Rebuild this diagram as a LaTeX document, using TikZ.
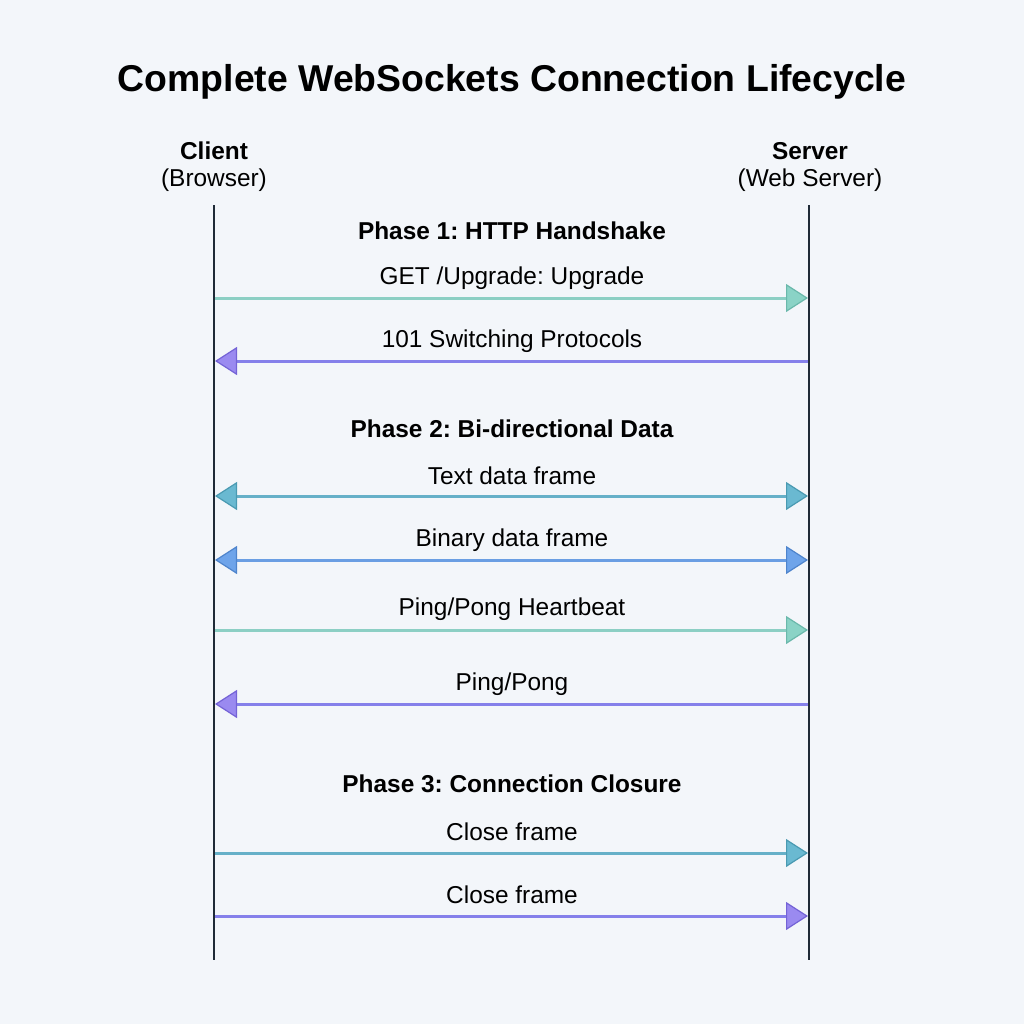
\documentclass[tikz,border=0pt]{standalone}
\usepackage{fontspec}
\setmainfont{Liberation Sans}
\usetikzlibrary{arrows.meta}
\frenchspacing
\definecolor{bg}{HTML}{F3F6FA}
\definecolor{life}{HTML}{1F2A37}
\definecolor{tgL}{HTML}{8CCFC4}\definecolor{tgF}{HTML}{8AD3C6}\definecolor{tgD}{HTML}{6AB8AB}
\definecolor{puL}{HTML}{8580EA}\definecolor{puF}{HTML}{9A8AF0}\definecolor{puD}{HTML}{7463D6}
\definecolor{tbL}{HTML}{66B0C8}\definecolor{tbF}{HTML}{6AB9D1}\definecolor{tbD}{HTML}{4A9AB2}
\definecolor{blL}{HTML}{6A9EE3}\definecolor{blF}{HTML}{6EA4EA}\definecolor{blD}{HTML}{4E84CC}
\tikzset{
  lifeline/.style={draw=life,line width=2.7bp},
  msg/.style={font=\fontsize{24.5}{28}\selectfont,text=black,inner sep=0},
  phase/.style={font=\bfseries\fontsize{24.5}{28}\selectfont,text=black,inner sep=0},
  actor/.style={font=\fontsize{24.5}{28}\selectfont,text=black,inner sep=0,align=center},
  tg/.style={draw=tgL,line width=3bp,arrows={-Triangle[length=22bp,width=28bp,fill=tgF,color=tgD,line width=1.2bp]}},
  pu/.style={draw=puL,line width=3bp,arrows={-Triangle[length=22bp,width=28bp,fill=puF,color=puD,line width=1.2bp]}},
  tb/.style={draw=tbL,line width=3bp,arrows={-Triangle[length=22bp,width=28bp,fill=tbF,color=tbD,line width=1.2bp]}},
  tbb/.style={draw=tbL,line width=3bp,arrows={Triangle[length=22bp,width=28bp,fill=tbF,color=tbD,line width=1.2bp]-Triangle[length=22bp,width=28bp,fill=tbF,color=tbD,line width=1.2bp]}},
  blb/.style={draw=blL,line width=3bp,arrows={Triangle[length=22bp,width=28bp,fill=blF,color=blD,line width=1.2bp]-Triangle[length=22bp,width=28bp,fill=blF,color=blD,line width=1.2bp]}},
}
\begin{document}
\begin{tikzpicture}[x=1bp,y=-1bp]
\fill[bg] (0,0) rectangle (1024,1024);
\useasboundingbox (0,0) rectangle (1024,1024);
\node[font=\bfseries\fontsize{37.5}{42}\selectfont,inner sep=0] (title) at (512,82) {Complete WebSockets Connection Lifecycle};
\node[actor,font=\bfseries\fontsize{24.5}{28}\selectfont] (client) at (214,151) {Client};
\node[actor] (clientsub) at (214,180) {(Browser)};
\node[actor,font=\bfseries\fontsize{24.5}{28}\selectfont] (server) at (810,151) {Server};
\node[actor] (serversub) at (810,180) {(Web Server)};
\coordinate (ctop) at (214,205); \coordinate (cbot) at (214,960);
\coordinate (stop) at (809,205); \coordinate (sbot) at (809,960);
\draw[lifeline] (ctop) -- (cbot);
\draw[lifeline] (stop) -- (sbot);
% phase labels
\node[phase] (p1) at (512,231) {Phase 1: HTTP Handshake};
\node[phase] (p2) at (512,429) {Phase 2: Bi-directional Data};
\node[phase] (p3) at (512,784) {Phase 3: Connection Closure};
% message endpoints
\foreach \n/\y in {1/298,2/361,3/496,4/560,5/630,6/704,7/853,8/916}{
  \coordinate (c\n) at (215,\y);
  \coordinate (s\n) at (808,\y);
}
\node[msg] (m1) at (512,278) {GET /Upgrade: Upgrade};
\draw[tg] (c1) -- (s1);
\node[msg] (m2) at (512,341) {101 Switching Protocols};
\draw[pu] (s2) -- (c2);
\node[msg] (m3) at (512,476) {Text data frame};
\draw[tbb] (c3) -- (s3);
\node[msg] (m4) at (512,540) {Binary data frame};
\draw[blb] (c4) -- (s4);
\node[msg] (m5) at (512,609) {Ping/Pong Heartbeat};
\draw[tg] (c5) -- (s5);
\node[msg] (m6) at (512,684) {Ping/Pong};
\draw[pu] (s6) -- (c6);
\node[msg] (m7) at (512,832) {Close frame};
\draw[tb] (c7) -- (s7);
\node[msg] (m8) at (512,895) {Close frame};
\draw[pu] (c8) -- (s8);
\end{tikzpicture}
\end{document}
